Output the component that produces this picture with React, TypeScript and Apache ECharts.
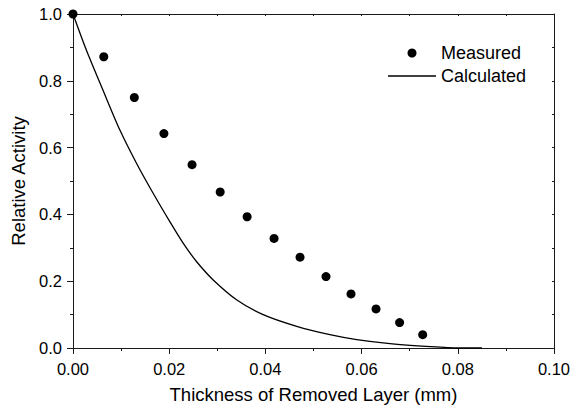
import React, { useEffect, useRef } from "react";
import * as echarts from "echarts";

const measuredX = [0, 0.0064, 0.01275, 0.0189, 0.02475, 0.0306, 0.0362, 0.0418, 0.0472, 0.0526, 0.0578, 0.063, 0.0679, 0.0727];
const measuredY = [1.0, 0.872, 0.75, 0.642, 0.549, 0.467, 0.393, 0.328, 0.272, 0.214, 0.162, 0.117, 0.076, 0.04];

const calcX = [0, 0.00275, 0.0062, 0.0097, 0.01317, 0.01663, 0.0201, 0.0229, 0.02567, 0.0291, 0.034, 0.03954, 0.0465, 0.0534, 0.059, 0.0659, 0.0743, 0.08, 0.085];
const calcY = [1.0, 0.893, 0.773, 0.654, 0.554, 0.464, 0.379, 0.314, 0.259, 0.2045, 0.1446, 0.0997, 0.0647, 0.0398, 0.025, 0.013, 0.004, 0.0, 0.0];

const xTickLabels = ["0.00", "0.02", "0.04", "0.06", "0.08", "0.10"];
const yTickLabels = ["0.0", "0.2", "0.4", "0.6", "0.8", "1.0"];

const FONT = "'Liberation Sans', Arial, sans-serif";
const AX = "#1a1a1a";

export default function App() {
  const ref = useRef<HTMLDivElement>(null);
  useEffect(() => {
    if (!ref.current) return;
    const chart = echarts.init(ref.current, undefined, { renderer: "svg" });
    const measured = measuredX.map((x, i) => [x, measuredY[i]]);
    const calc = calcX.map((x, i) => [x, calcY[i]]);
    chart.setOption({
      animation: false,
      backgroundColor: "#ffffff",
      textStyle: { fontFamily: FONT },
      grid: { left: 73, right: 30, top: 14, bottom: 66, containLabel: false },
      legend: {
        orient: "vertical",
        left: 383,
        top: 39,
        itemWidth: 48,
        itemHeight: 9,
        itemGap: 5,
        textStyle: { fontFamily: FONT, fontSize: 18, color: "#000" },
        data: [
          { name: "Measured", icon: "circle" },
          { name: "Calculated", icon: "path://M0,0 L480,0 L480,13 L0,13 Z" },
        ],
      },
      xAxis: [
        {
          type: "value",
          min: 0,
          max: 0.1,
          interval: 0.02,
          position: "bottom",
          name: "Thickness of Removed Layer (mm)",
          nameLocation: "middle",
          nameGap: 37,
          nameTextStyle: { fontFamily: FONT, fontSize: 18.5, color: "#000" },
          axisLine: { show: true, lineStyle: { color: AX, width: 1 } },
          axisTick: { show: true, inside: false, length: 6, lineStyle: { color: AX } },
          minorTick: { show: true, splitNumber: 2, length: 3, lineStyle: { color: AX } },
          axisLabel: {
            margin: 12,
            fontSize: 16.5,
            color: "#000",
            fontFamily: FONT,
            formatter: (v: number) => xTickLabels[Math.round(v / 0.02)] ?? "",
          },
          splitLine: { show: false },
        },
        {
          type: "value",
          min: 0,
          max: 0.1,
          interval: 0.01,
          position: "top",
          axisLine: { show: true, onZero: false, lineStyle: { color: AX, width: 1 } },
          axisTick: { show: true, inside: true, length: 2, lineStyle: { color: AX } },
          axisLabel: { show: false },
          splitLine: { show: false },
        },
      ],
      yAxis: [
        {
          type: "value",
          min: 0,
          max: 1,
          interval: 0.2,
          position: "left",
          name: "Relative Activity",
          nameLocation: "middle",
          nameGap: 43,
          nameTextStyle: { fontFamily: FONT, fontSize: 18.5, color: "#000" },
          axisLine: { show: true, lineStyle: { color: AX, width: 1 } },
          axisTick: { show: true, inside: false, length: 6, lineStyle: { color: AX } },
          minorTick: { show: true, splitNumber: 2, length: 3, lineStyle: { color: AX } },
          axisLabel: {
            margin: 11,
            fontSize: 16.5,
            color: "#000",
            fontFamily: FONT,
            formatter: (v: number) => yTickLabels[Math.round(v / 0.2)] ?? "",
          },
          splitLine: { show: false },
        },
        {
          type: "value",
          min: 0,
          max: 1,
          interval: 0.1,
          position: "right",
          axisLine: { show: true, onZero: false, lineStyle: { color: AX, width: 1 } },
          axisTick: { show: true, inside: true, length: 2, lineStyle: { color: AX } },
          axisLabel: { show: false },
          splitLine: { show: false },
        },
      ],
      series: [
        {
          name: "Measured",
          type: "scatter",
          data: measured,
          symbol: "circle",
          symbolSize: 9,
          clip: false,
          itemStyle: { color: "#000", opacity: 1 },
          xAxisIndex: 0,
          yAxisIndex: 0,
        },
        {
          name: "Calculated",
          type: "line",
          data: calc,
          symbol: "none",
          showSymbol: false,
          smooth: 0.25,
          clip: false,
          lineStyle: { color: "#000", width: 1.3 },
          itemStyle: { color: "#000" },
          xAxisIndex: 0,
          yAxisIndex: 0,
        },
      ],
    });
    return () => chart.dispose();
  }, []);
  return (
    <div
      ref={ref}
      style={{ position: "absolute", left: 0, top: 0, width: 584, height: 414 }}
    />
  );
}
